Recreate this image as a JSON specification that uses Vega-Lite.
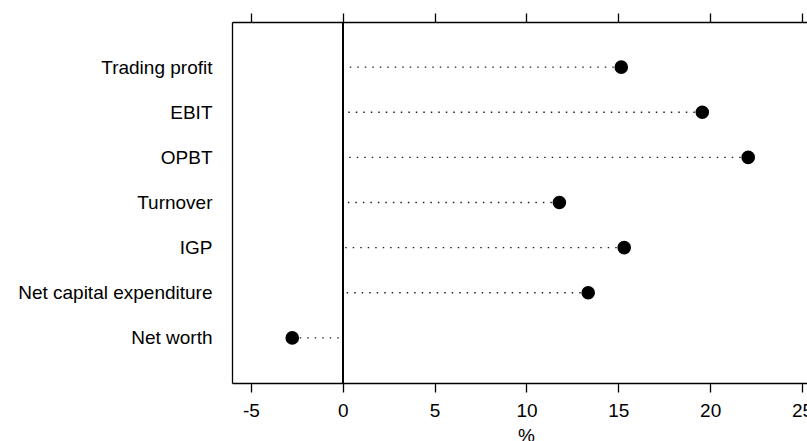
{
  "$schema": "https://vega.github.io/schema/vega-lite/v6.json",
  "autosize": "none",
  "padding": {"left": 232, "top": 22, "right": 0, "bottom": 58},
  "width": 575,
  "height": 361,
  "background": "white",
  "config": {
    "font": "Liberation Sans",
    "view": {"stroke": null},
    "axis": {"grid": false, "labelColor": "black", "titleColor": "black", "labelFont": "Liberation Sans", "titleFont": "Liberation Sans", "domainColor": "black", "domainWidth": 1.3}
  },
  "data": {
    "values": [
      {"item": "Trading profit", "value": 15.16},
      {"item": "EBIT", "value": 19.57},
      {"item": "OPBT", "value": 22.07},
      {"item": "Turnover", "value": 11.79},
      {"item": "IGP", "value": 15.32},
      {"item": "Net capital expenditure", "value": 13.36},
      {"item": "Net worth", "value": -2.75}
    ]
  },
  "resolve": {"axis": {"x": "independent"}},
  "layer": [
    {
      "mark": {"type": "rule", "color": "#222222", "strokeWidth": 1.4, "strokeDash": [1.5, 6]},
      "encoding": {
        "x": {
          "field": "value",
          "type": "quantitative",
          "scale": {"domain": [-6.03, 25.27], "nice": false, "zero": false},
          "axis": {"orient": "bottom", "values": [-5, 0, 5, 10, 15, 20, 25], "labelExpr": "'' + datum.value", "tickSize": 9, "tickColor": "black", "tickWidth": 1.3, "domain": true, "labelFontSize": 19, "labelPadding": 9, "labelFlush": false, "labelOverlap": false, "title": "%", "titleFontSize": 19, "titleFontWeight": "normal", "titlePadding": 6, "titleX": 294}
        },
        "x2": {"datum": 0},
        "y": {
          "field": "item",
          "type": "nominal",
          "sort": null,
          "scale": {"type": "point", "padding": 1},
          "axis": {"title": null, "ticks": false, "domain": true, "labelFontSize": 19, "labelPadding": 20, "labelLimit": 400}
        }
      }
    },
    {
      "mark": {"type": "rule", "color": "black", "strokeWidth": 1.3},
      "encoding": {
        "x": {"datum": 0, "type": "quantitative", "axis": null}
      }
    },
    {
      "mark": {"type": "point", "filled": true, "color": "black", "opacity": 1, "size": 185},
      "encoding": {
        "x": {
          "field": "value",
          "type": "quantitative",
          "axis": {"orient": "top", "values": [-5, 0, 5, 10, 15, 20, 25], "labels": false, "tickSize": 9, "tickColor": "black", "tickWidth": 1.3, "domain": true, "title": null}
        },
        "y": {"field": "item", "type": "nominal", "sort": null}
      }
    }
  ]
}
